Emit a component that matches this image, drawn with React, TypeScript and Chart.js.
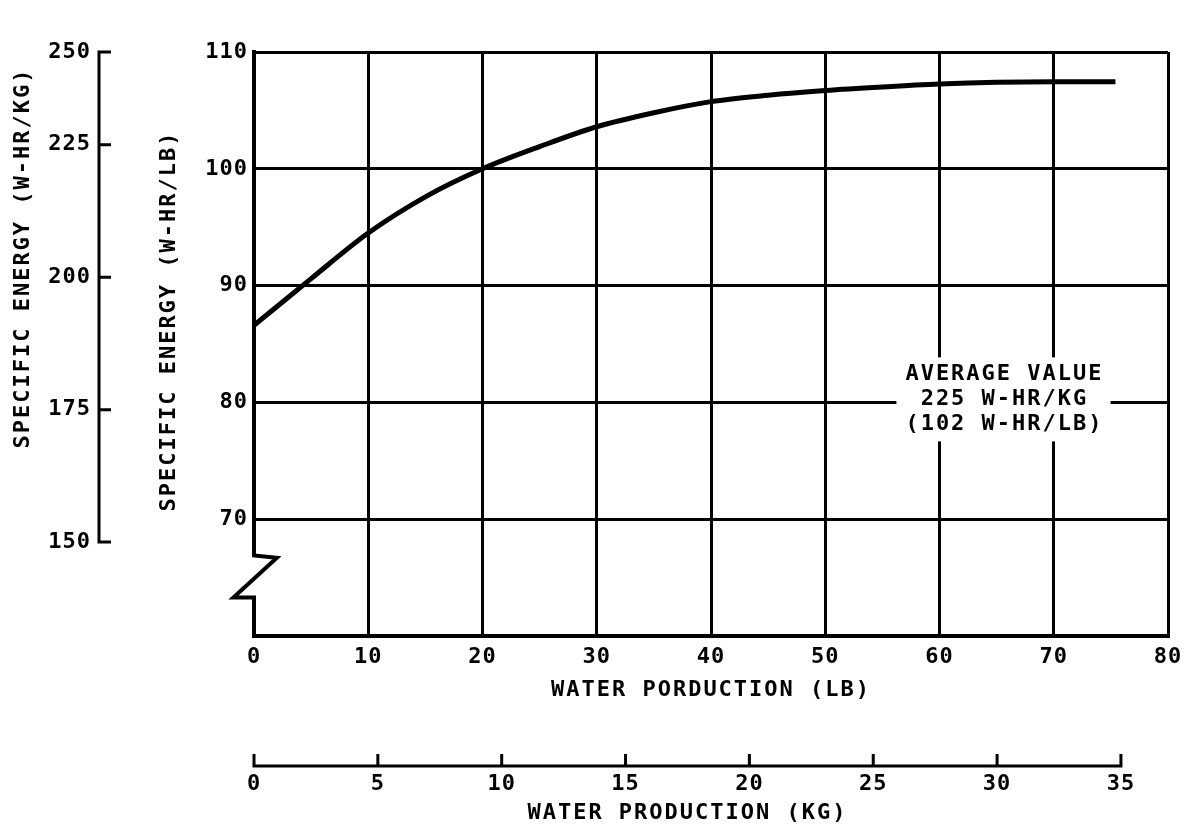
import React, { useEffect, useRef } from 'react';
import { Chart, registerables } from 'chart.js';

Chart.register(...registerables);

// ---- data ----
const waterLb = [0, 5, 10, 15, 20, 25, 30, 35, 40, 45, 50, 55, 60, 65, 70, 75.4];
const energyWhLb = [86.6, 90.6, 94.5, 97.6, 100, 101.9, 103.6, 104.8, 105.75, 106.3, 106.7, 107.0, 107.25, 107.4, 107.45, 107.45];

const lbTicks = [0, 10, 20, 30, 40, 50, 60, 70, 80];
const whLbTicks = [70, 80, 90, 100, 110];
const kgTicks = [0, 5, 10, 15, 20, 25, 30, 35];
const whKgTicks = [150, 175, 200, 225, 250];

const annotationLines = ['AVERAGE VALUE', '225 W-HR/KG', '(102 W-HR/LB)'];
const annotationAt = { x: 65.6, y: 80 };

const KG_PER_LB = 0.4536;
const kgAxisMax = 36.9; // as drawn in the reference (35 kg sits a little left of 77 lb)

// axis break (zig-zag) in data coordinates of the main axes
const axisBreak: [number, number][] = [
  [0, 110], [0, 66.9], [2, 66.7], [-1.8, 63.3], [0, 63.3], [0, 60],
];

const FONT = "'DejaVu Sans Mono', monospace";
const tickFont = { family: FONT, size: 22, weight: 'bold' as const };
const titleFont = { family: FONT, size: 22, weight: 'bold' as const };

const titleTweaks: Record<string, { spacing: string; dy?: number; centerOnKg?: boolean }> = {
  x: { spacing: '2px' },
  x2: { spacing: '2px', centerOnKg: true },
  y: { spacing: '2px', dy: -23 },
  y2: { spacing: '2px', dy: -86 },
};

const decorPlugin = {
  id: 'decor',
  beforeDraw(chart: any) {
    chart.ctx.letterSpacing = '1px';
    Object.keys(titleTweaks).forEach((id) => {
      const s = chart.scales[id];
      if (!s || s.$tuned) return;
      const tw = titleTweaks[id];
      const orig = s.drawTitle;
      s.drawTitle = function () {
        const ctx = this.ctx;
        ctx.save();
        ctx.letterSpacing = tw.spacing;
        let dx = 0;
        if (tw.centerOnKg) {
          const a = this.getPixelForValue(kgTicks[0]);
          const b = this.getPixelForValue(kgTicks[kgTicks.length - 1]);
          dx = (a + b) / 2 - (this.left + this.right) / 2;
        }
        ctx.translate(dx, tw.dy || 0);
        orig.call(this);
        ctx.restore();
      };
      s.$tuned = true;
    });
  },
  beforeDatasetsDraw(chart: any) {
    const { ctx, scales } = chart;
    const { x, y } = scales;
    ctx.save();
    ctx.strokeStyle = '#000';
    ctx.lineJoin = 'miter';
    ctx.lineCap = 'butt';
    ctx.lineWidth = 4;
    ctx.beginPath();
    axisBreak.forEach(([vx, vy], i) => {
      const px = x.getPixelForValue(vx);
      const py = y.getPixelForValue(vy);
      if (i === 0) ctx.moveTo(px, py - 2);
      else ctx.lineTo(px, py);
    });
    ctx.stroke();
    ctx.restore();
  },
  afterDraw(chart: any) {
    const { ctx, scales } = chart;
    const { x, y, x2, y2 } = scales;
    ctx.save();
    ctx.strokeStyle = '#000';
    ctx.lineWidth = 3;
    ctx.lineCap = 'butt';
    ctx.lineJoin = 'miter';
    // secondary W-HR/KG axis
    const ax = y2.right;
    const tl = 12;
    const topPx = y2.getPixelForValue(y2.max);
    const botPx = y2.getPixelForValue(whKgTicks[0]);
    ctx.beginPath();
    ctx.moveTo(ax + tl, topPx);
    ctx.lineTo(ax, topPx);
    ctx.lineTo(ax, botPx);
    ctx.lineTo(ax + tl, botPx);
    whKgTicks.slice(1, -1).forEach((v) => {
      const p = y2.getPixelForValue(v);
      ctx.moveTo(ax, p);
      ctx.lineTo(ax + tl, p);
    });
    ctx.stroke();
    // secondary KG axis
    const ay = x2.top + 1;
    const k0 = x2.getPixelForValue(kgTicks[0]);
    const k1 = x2.getPixelForValue(kgTicks[kgTicks.length - 1]);
    ctx.beginPath();
    ctx.moveTo(k0, ay - tl);
    ctx.lineTo(k0, ay);
    ctx.lineTo(k1, ay);
    ctx.lineTo(k1, ay - tl);
    kgTicks.slice(1, -1).forEach((v) => {
      const p = x2.getPixelForValue(v);
      ctx.moveTo(p, ay);
      ctx.lineTo(p, ay - tl);
    });
    ctx.stroke();

    // annotation
    const cx = x.getPixelForValue(annotationAt.x);
    const cy = y.getPixelForValue(annotationAt.y) - 3;
    ctx.font = `bold 22px ${FONT}`;
    ctx.letterSpacing = '2px';
    const w = Math.max(...annotationLines.map((t) => ctx.measureText(t).width));
    ctx.fillStyle = '#fff';
    ctx.fillRect(cx - w / 2 - 8, cy - 42, w + 16, 84);
    ctx.fillStyle = '#000';
    ctx.textAlign = 'center';
    ctx.textBaseline = 'middle';
    const lh = 25;
    annotationLines.forEach((t, i) => {
      ctx.fillText(t, cx + 1, cy + (i - 1) * lh);
    });
    ctx.restore();
  },
};

export default function App() {
  const ref = useRef<HTMLCanvasElement | null>(null);
  useEffect(() => {
    if (!ref.current) return;
    const chart = new Chart(ref.current, {
      type: 'line',
      data: {
        datasets: [
          {
            data: waterLb.map((v, i) => ({ x: v, y: energyWhLb[i] })),
            borderColor: '#000',
            borderWidth: 5,
            pointRadius: 0,
            fill: false,
            cubicInterpolationMode: 'monotone',
            xAxisID: 'x',
            yAxisID: 'y',
          },
        ],
      },
      options: {
        animation: false,
        responsive: true,
        maintainAspectRatio: false,
        layout: { padding: { top: 52, right: 33, left: 0, bottom: 0 } },
        plugins: { legend: { display: false }, tooltip: { enabled: false } },
        scales: {
          x: {
            type: 'linear',
            position: 'bottom',
            min: 0,
            max: 80,
            afterBuildTicks: (s: any) => { s.ticks = lbTicks.map((v) => ({ value: v })); },
            afterFit: (s: any) => { s.height = 129; },
            grid: {
              color: (c: any) => (c.tick && c.tick.value === 0 ? 'rgba(0,0,0,0)' : '#000'),
              lineWidth: 3,
              drawTicks: false,
            },
            border: { display: true, color: '#000', width: 4 },
            ticks: { color: '#000', font: tickFont, padding: 8, maxRotation: 0, autoSkip: false },
            title: { display: true, text: 'WATER PORDUCTION (LB)', color: '#000', font: titleFont, padding: { top: 0, bottom: 62 } },
          },
          x2: {
            type: 'linear',
            position: 'bottom',
            weight: 1,
            min: 0,
            max: kgAxisMax,
            afterBuildTicks: (s: any) => { s.ticks = kgTicks.map((v) => ({ value: v })); },
            afterFit: (s: any) => { s.height = 70; },
            grid: { display: false, drawTicks: false },
            border: { display: false },
            ticks: { color: '#000', font: tickFont, padding: 6, maxRotation: 0, autoSkip: false },
            title: { display: true, text: 'WATER PRODUCTION (KG)', color: '#000', font: titleFont, padding: { top: 0, bottom: 9 } },
          },
          y: {
            type: 'linear',
            position: 'left',
            min: 60,
            max: 110,
            afterBuildTicks: (s: any) => { s.ticks = whLbTicks.map((v) => ({ value: v })); },
            afterFit: (s: any) => { s.width = 155; },
            grid: { color: '#000', lineWidth: 3, drawTicks: false },
            border: { display: false },
            ticks: { color: '#000', font: tickFont, padding: 6, autoSkip: false },
            title: { display: true, text: 'SPECIFIC ENERGY (W-HR/LB)', color: '#000', font: titleFont, padding: { top: 57, bottom: 0 } },
          },
          y2: {
            type: 'linear',
            position: 'left',
            weight: 1,
            min: 60 / KG_PER_LB,
            max: 110 / KG_PER_LB,
            afterBuildTicks: (s: any) => {
              s.ticks = whKgTicks.map((v) => ({ value: Math.min(v, s.max) }));
            },
            afterFit: (s: any) => { s.width = 99; },
            grid: { display: false, drawTicks: false },
            border: { display: false },
            ticks: { color: '#000', font: tickFont, padding: 8, autoSkip: false, callback: (_v: any, i: number) => String(whKgTicks[i]) },
            title: { display: true, text: 'SPECIFIC ENERGY (W-HR/KG)', color: '#000', font: titleFont, padding: { top: 10, bottom: 0 } },
          },
        },
      } as any,
      plugins: [decorPlugin],
    });
    return () => chart.destroy();
  }, []);
  return (
    <div style={{ position: 'fixed', left: 0, top: 0, width: 1201, height: 835, background: '#fff' }}>
      <canvas ref={ref} />
    </div>
  );
}
